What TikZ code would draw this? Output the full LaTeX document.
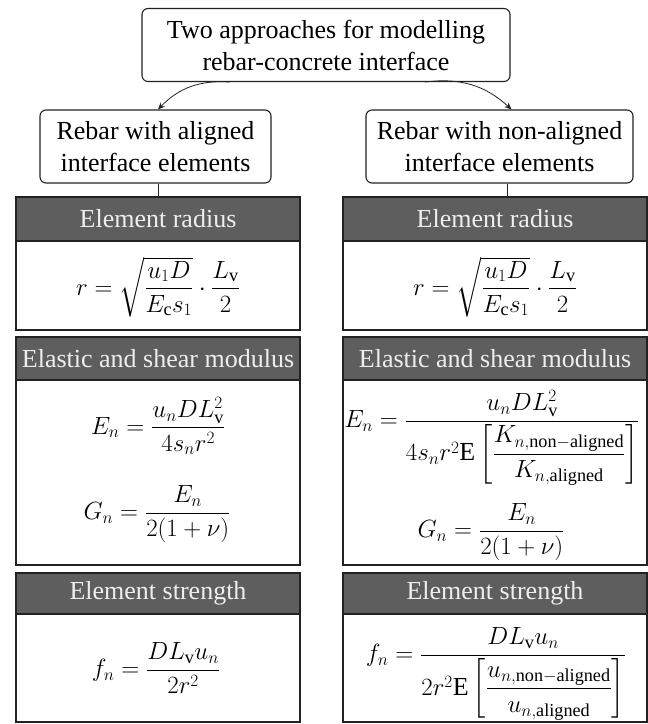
\documentclass[tikz,border=0pt]{standalone}
\usepackage{amsmath}
\usepackage{fontspec}
\setmainfont{Liberation Serif}
\newfontfamily\boxserif{Liberation Serif}
\usepackage{tikz}
\usetikzlibrary{arrows.meta, positioning, calc}
\definecolor{HeadGray}{HTML}{5E5E5E}
\definecolor{HeadText}{HTML}{EEEEEE}
\definecolor{LineDark}{HTML}{222222}
\newcommand{\bigfont}{\boxserif\fontsize{26}{32}\selectfont}

\begin{document}
\begin{tikzpicture}[
  x=1pt, y=-1pt,
  textbox/.style={draw=LineDark, rounded corners=6pt, line width=1.1pt, align=center, font=\bigfont, inner sep=0pt},
  headbox/.style={draw=LineDark, fill=HeadGray, text=HeadText, line width=1.4pt, font=\bigfont, inner sep=0pt},
  bodybox/.style={draw=LineDark, fill=white, line width=1.4pt, inner sep=0pt},
  formula/.style={inner sep=0pt, font=\bigfont},
  arrowstyle/.style={-{Stealth[length=7pt, width=6pt]}, line width=0.8pt, LineDark},
  linestyle/.style={line width=1pt, LineDark}
  ]
  \useasboundingbox (0,0) rectangle (648,724);
  % Top box
  \node[textbox, minimum width=368pt, minimum height=73pt] (top) at (326, 45) {Two approaches for modelling\\rebar-concrete interface};
  % Approaches
  \node[textbox, minimum width=231pt, minimum height=73pt] (subL) at (155.5, 146.5) {Rebar with aligned\\interface elements};
  \node[textbox, minimum width=267pt, minimum height=73pt] (subR) at (499.5, 146.5) {Rebar with non-aligned\\interface elements};
  % Left column
  \node[headbox, minimum width=284pt, minimum height=44pt] (hdL1) at (158, 219) {Element radius};
  \node[bodybox, minimum width=284pt, minimum height=89pt] (bdL1) at (158, 285.5) {};
  \node[headbox, minimum width=284pt, minimum height=43pt] (hdL2) at (158, 358.5) {Elastic and shear modulus};
  \node[bodybox, minimum width=284pt, minimum height=185pt] (bdL2) at (158, 472.5) {};
  \node[headbox, minimum width=284pt, minimum height=41pt] (hdL3) at (158, 593.5) {Element strength};
  \node[bodybox, minimum width=284pt, minimum height=108pt] (bdL3) at (158, 668) {};
  % Right column
  \node[headbox, minimum width=304pt, minimum height=44pt] (hdR1) at (495, 219) {Element radius};
  \node[bodybox, minimum width=304pt, minimum height=89pt] (bdR1) at (495, 285.5) {};
  \node[headbox, minimum width=304pt, minimum height=43pt] (hdR2) at (495, 358.5) {Elastic and shear modulus};
  \node[bodybox, minimum width=304pt, minimum height=185pt] (bdR2) at (495, 472.5) {};
  \node[headbox, minimum width=304pt, minimum height=41pt] (hdR3) at (495, 593.5) {Element strength};
  \node[bodybox, minimum width=304pt, minimum height=108pt] (bdR3) at (495, 668) {};
  % Formulas, aligned
  \node[formula] (rL) at (158, 287) {$r = \sqrt{\dfrac{u_1 D}{E_\mathrm{c} s_1}} \cdot \dfrac{L_\mathrm{v}}{2}$};
  \node[formula] (EL) at (158, 426) {$E_n = \dfrac{u_n D L_\mathrm{v}^2}{4 s_n r^2}$};
  \node[formula] (GL) at (157, 514) {$G_n = \dfrac{E_n}{2(1+\nu)}$};
  \node[formula] (fL) at (156, 668) {$f_n = \dfrac{D L_\mathrm{v} u_n}{2 r^2}$};
  % Formulas, non-aligned
  \node[formula] (rR) at (495, 287) {$r = \sqrt{\dfrac{u_1 D}{E_\mathrm{c} s_1}} \cdot \dfrac{L_\mathrm{v}}{2}$};
  \node[formula] (ER) at (492, 438) {$E_n = \dfrac{u_n D L_\mathrm{v}^2}{4 s_n r^2 \mathrm{E}\left[\dfrac{K_{n,\mathrm{non{-}aligned}}}{K_{n,\mathrm{aligned}}}\right]}$};
  \node[formula] (GR) at (491, 532) {$G_n = \dfrac{E_n}{2(1+\nu)}$};
  \node[formula] (fR) at (496, 674) {$f_n = \dfrac{D L_\mathrm{v} u_n}{2 r^2 \mathrm{E}\left[\dfrac{u_{n,\mathrm{non{-}aligned}}}{u_{n,\mathrm{aligned}}}\right]}$};
  % Arrows
  \draw[arrowstyle] ([xshift=-96pt]top.south) to[bend right=25] ([xshift=2.5pt]subL.north);
  \draw[arrowstyle] ([xshift=99pt]top.south) to[bend left=25] ([xshift=12pt]subR.north);
  \draw[linestyle] ([xshift=2.5pt]subL.south) -- ([xshift=2.5pt]subL.south |- hdL1.north);
  \draw[linestyle] ([xshift=7.5pt]subR.south) -- ([xshift=7.5pt]subR.south |- hdR1.north);
\end{tikzpicture}
\end{document}
